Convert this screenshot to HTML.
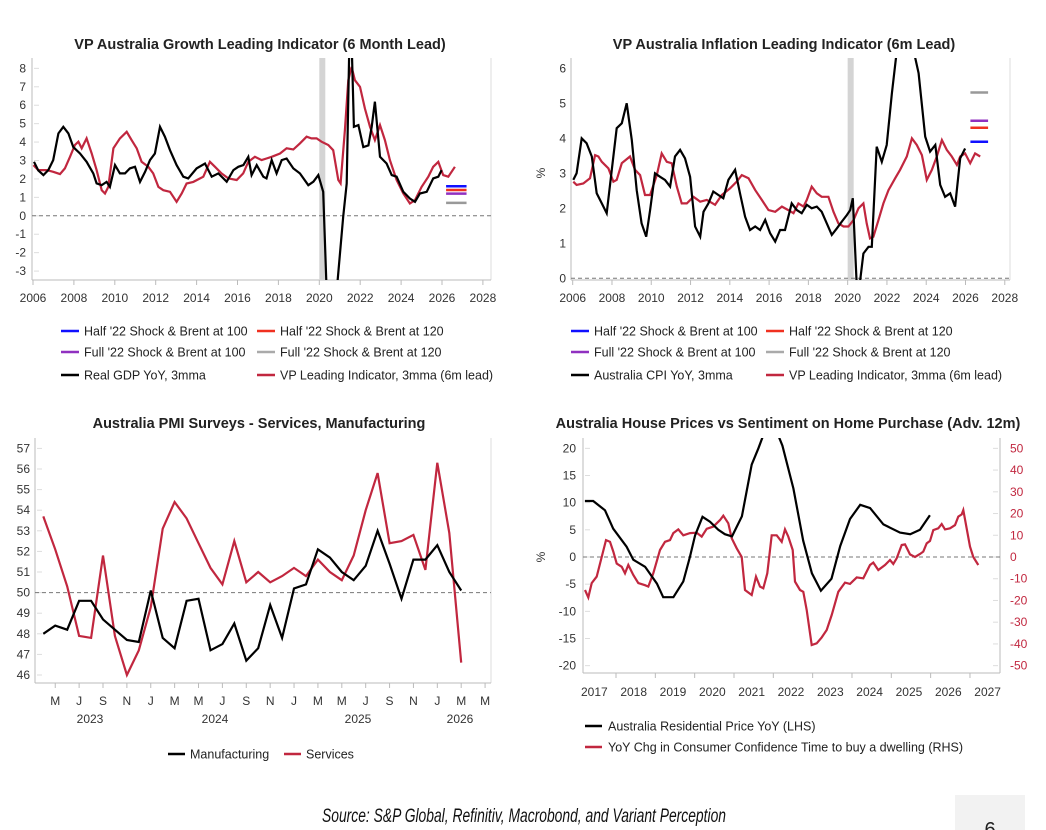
<!DOCTYPE html>
<html><head><meta charset="utf-8"><style>
html,body{margin:0;padding:0;background:#fff;}
svg{display:block;font-family:"Liberation Sans",sans-serif;}
</style></head><body>
<svg id="root" width="1046" height="830" viewBox="0 0 1046 830" xmlns="http://www.w3.org/2000/svg">
<defs>
<clipPath id="c1"><rect x="32" y="58" width="459" height="222"/></clipPath>
<clipPath id="c2"><rect x="571" y="58" width="439" height="222"/></clipPath>
<clipPath id="c3"><rect x="35" y="438" width="456" height="245"/></clipPath>
<clipPath id="c4"><rect x="583" y="438" width="417" height="235"/></clipPath>
</defs>
<text x="260" y="49" text-anchor="middle" font-size="14.5" font-weight="bold" fill="#222">VP Australia Growth Leading Indicator (6 Month Lead)</text>
<text x="784" y="49" text-anchor="middle" font-size="14.5" font-weight="bold" fill="#222">VP Australia Inflation Leading Indicator (6m Lead)</text>
<text x="259" y="428" text-anchor="middle" font-size="14.5" font-weight="bold" fill="#222">Australia PMI Surveys - Services, Manufacturing</text>
<text x="788" y="428" text-anchor="middle" font-size="14.5" font-weight="bold" fill="#222">Australia House Prices vs Sentiment on Home Purchase (Adv. 12m)</text>
<text x="322" y="822" font-size="19" font-style="italic" fill="#111" textLength="404" lengthAdjust="spacingAndGlyphs">Source: S&amp;P Global, Refinitiv, Macrobond, and Variant Perception</text>
<rect x="955" y="795" width="70" height="35" fill="#f2f2f2"/>
<text x="990" y="836" text-anchor="middle" font-size="20" fill="#222">6</text>
<g id="g"></g>
</svg>
<script>
// ---- Chart 1: growth ----
const g1GdpYears=[2006.05,2006.26,2006.51,2006.75,2006.99,2007.24,2007.48,2007.73,2007.97,2008.30,2008.62,2008.95,2009.11,2009.36,2009.60,2009.76,2010.01,2010.25,2010.50,2010.74,2010.99,2011.23,2011.48,2011.72,2011.96,2012.21,2012.45,2012.70,2013.02,2013.35,2013.59,2014.00,2014.41,2014.74,2015.06,2015.47,2015.80,2016.04,2016.29,2016.53,2016.69,2016.94,2017.26,2017.42,2017.67,2017.91,2018.16,2018.40,2018.73,2019.05,2019.46,2019.71,2019.95,2020.19,2020.45,2020.70,2021.17,2021.34,2021.47,2021.58,2021.69,2021.91,2022.15,2022.40,2022.56,2022.72,2022.97,2023.29,2023.54,2023.78,2024.11,2024.43,2024.68,2024.92,2025.25,2025.57,2025.82,2025.98];
const g1Gdp=[2.93,2.46,2.21,2.48,3.02,4.47,4.83,4.47,3.73,3.38,2.93,2.30,1.76,1.66,1.84,1.57,2.75,2.30,2.30,2.57,2.66,1.84,2.39,3.02,3.38,4.83,4.29,3.56,2.75,2.12,2.03,2.57,2.84,2.12,2.30,1.85,2.48,2.66,2.75,3.20,2.21,2.75,2.12,2.03,3.02,2.30,3.02,3.11,2.57,2.30,1.66,1.85,2.21,1.30,-7,-6,-0.05,1.75,9.5,9.5,4.83,4.92,3.73,3.82,4.83,6.19,3.20,2.84,2.21,2.12,1.30,0.94,0.76,1.21,1.30,2.03,2.12,2.48];
const g1LeadYears=[2006.02,2006.26,2006.67,2006.99,2007.32,2007.56,2007.81,2008.05,2008.22,2008.38,2008.62,2008.87,2009.11,2009.36,2009.52,2009.68,2009.93,2010.25,2010.58,2010.82,2011.07,2011.31,2011.64,2011.88,2012.13,2012.37,2012.70,2013.02,2013.27,2013.51,2013.84,2014.33,2014.65,2014.90,2015.22,2015.55,2015.96,2016.28,2016.53,2016.85,2017.18,2017.42,2017.67,2018.08,2018.40,2018.73,2019.05,2019.38,2019.62,2019.87,2020.11,2020.44,2020.68,2020.93,2021.04,2021.25,2021.42,2021.58,2021.74,2021.99,2022.23,2022.48,2022.72,2022.97,2023.21,2023.45,2023.78,2024.11,2024.43,2024.68,2025.00,2025.33,2025.57,2025.82,2026.06,2026.31,2026.63];
const g1Lead=[2.75,2.48,2.48,2.39,2.26,2.57,3.20,3.84,4.02,3.66,4.20,3.38,2.48,1.39,1.21,1.57,3.66,4.20,4.56,4.11,3.66,2.93,2.66,2.30,1.57,1.39,1.30,0.76,1.21,1.75,1.84,2.12,2.93,2.66,2.30,2.03,1.94,2.30,2.93,3.20,3.02,3.11,3.20,3.38,3.66,3.60,3.93,4.29,4.20,4.20,4.02,3.84,3.56,1.94,1.76,4.65,7.36,8.08,7.36,7.00,5.82,4.83,4.11,4.92,4.11,3.02,1.94,1.21,0.67,0.85,1.57,2.12,2.66,2.93,2.21,2.12,2.66];
const g1Scenario=[1.6,1.4,1.2,0.7];
const g1YTicks=[8,7,6,5,4,3,2,1,0,-1,-2,-3];
const xYearTicks=[2006,2008,2010,2012,2014,2016,2018,2020,2022,2024,2026,2028];
// ---- Chart 2: inflation ----
const g2CpiYears=[2006.03,2006.20,2006.46,2006.71,2006.97,2007.22,2007.48,2007.73,2007.99,2008.24,2008.50,2008.75,2009.01,2009.26,2009.51,2009.74,2009.94,2010.19,2010.45,2010.70,2010.96,2011.21,2011.47,2011.72,2011.98,2012.23,2012.49,2012.66,2012.91,2013.16,2013.42,2013.67,2013.93,2014.27,2014.52,2014.78,2015.03,2015.29,2015.54,2015.80,2016.05,2016.31,2016.56,2016.81,2017.15,2017.41,2017.66,2017.92,2018.17,2018.43,2018.68,2018.94,2019.19,2019.45,2019.70,2019.96,2020.13,2020.26,2020.47,2020.63,2020.80,2021.06,2021.23,2021.48,2021.74,2021.99,2022.25,2022.50,2022.75,2022.95,2023.20,2023.44,2023.61,2023.95,2024.20,2024.46,2024.71,2024.96,2025.22,2025.47,2025.73,2025.98];
const g2Cpi=[2.81,3.00,4.00,3.86,3.48,2.43,2.14,1.86,3.10,4.29,4.43,5.00,3.95,2.52,1.57,1.19,1.95,3.00,2.90,2.81,2.62,3.48,3.67,3.43,2.90,1.48,1.19,1.90,2.14,2.48,2.38,2.29,2.81,3.10,2.43,1.76,1.38,1.48,1.38,1.67,1.29,1.05,1.38,1.38,2.14,1.95,1.86,2.10,2.00,2.05,1.90,1.57,1.24,1.43,1.62,1.81,1.95,2.29,-0.3,-0.1,0.71,0.90,0.90,3.76,3.33,3.81,5.29,6.5,7.5,7.8,7.0,6.3,5.86,4.05,3.62,3.81,2.67,2.33,2.43,2.05,3.43,3.71];
const g2LeadYears=[2006.03,2006.20,2006.54,2006.88,2007.14,2007.31,2007.48,2007.82,2008.07,2008.24,2008.50,2008.92,2009.17,2009.43,2009.68,2009.94,2010.28,2010.53,2010.79,2011.04,2011.30,2011.55,2011.81,2012.15,2012.49,2012.83,2013.25,2013.59,2014.01,2014.35,2014.61,2014.95,2015.29,2015.63,2015.97,2016.31,2016.65,2016.98,2017.24,2017.49,2017.75,2017.92,2018.17,2018.43,2018.68,2019.02,2019.28,2019.53,2019.79,2020.04,2020.30,2020.55,2020.80,2020.97,2021.14,2021.31,2021.57,2021.82,2022.08,2022.42,2022.67,2023.01,2023.27,2023.52,2023.78,2024.03,2024.29,2024.54,2024.80,2025.05,2025.30,2025.56,2025.73,2025.98,2026.24,2026.49,2026.75];
const g2Lead=[2.76,2.67,2.71,2.86,3.52,3.48,3.33,3.14,2.76,2.81,3.29,3.48,3.10,2.95,2.38,2.38,2.95,3.57,3.33,3.29,2.62,2.14,2.14,2.33,2.19,2.24,2.10,2.38,2.57,2.76,2.95,2.86,2.52,2.24,1.95,1.90,2.05,1.95,1.86,2.14,2.05,2.24,2.62,2.43,2.33,2.33,1.90,1.57,1.48,1.48,1.67,2.00,2.14,1.57,1.14,1.19,1.67,2.14,2.52,2.86,3.10,3.48,4.00,3.81,3.52,2.81,3.10,3.48,3.95,3.67,3.48,3.24,3.48,3.57,3.29,3.57,3.48];
const g2Scenario=[3.9,4.3,4.5,5.31];
const g2YTicks=[6,5,4,3,2,1,0];
// ---- Chart 3: PMI ----
const pmiManufacturing=[48.0,48.4,48.2,49.6,49.6,48.7,48.2,47.7,47.6,50.1,47.8,47.3,49.6,49.7,47.2,47.5,48.5,46.7,47.3,49.4,47.8,50.2,50.4,52.1,51.7,51.0,50.6,51.3,53.0,51.4,49.7,51.6,51.6,52.3,51.0,50.1];
const pmiServices=[53.7,52.1,50.3,47.9,47.8,51.8,47.9,46.0,47.2,49.3,53.1,54.4,53.6,52.4,51.2,50.4,52.5,50.5,51.0,50.5,50.8,51.2,50.8,51.6,51.0,50.6,51.8,54.0,55.8,52.4,52.5,52.8,51.1,56.3,52.9,46.6];
const pmiYTicks=[57,56,55,54,53,52,51,50,49,48,47,46];
const pmiMonthLabels=["M","J","S","N","J","M","M","J","S","N","J","M","M","J","S","N","J","M","M"];
const pmiYearLabels=["2023","2024","2025","2026"];
// ---- Chart 4: house prices ----
const hpYears=[2017.21,2017.42,2017.72,2017.93,2018.27,2018.44,2018.74,2019.04,2019.20,2019.46,2019.71,2019.88,2020.01,2020.20,2020.39,2020.60,2020.77,2020.95,2021.20,2021.45,2021.62,2021.80,2021.95,2022.09,2022.23,2022.51,2022.76,2022.98,2023.21,2023.48,2023.70,2023.95,2024.21,2024.46,2024.80,2025.22,2025.48,2025.73,2025.98];
const hpPrice=[10.3,10.3,8.6,5.2,1.9,-0.5,-1.8,-4.9,-7.4,-7.4,-4.5,0,4.0,7.4,6.5,5.0,4.2,3.8,7.5,17.0,20.0,23.5,24.5,23.0,20.5,12.6,3.0,-3.0,-6.2,-4.0,2.0,7.0,9.6,9.0,6.0,4.5,4.2,5.0,7.7];
const sentXz=[165,175,185,200,215,228,240,250,260,275,285,295,310,325,345,355,370,390,405,420,430,445,460,480,500,515,530,550,570,580,595,605,620,635,645,665,678,690,700,712,725,740,755,765,775,788,795,810,820,830,845,860,875,890,905,925,945,960,980,1000,1020,1030,1045,1065,1080,1090,1100,1115,1125,1140,1155,1170,1180,1190,1200,1210,1225,1235,1245,1260,1275,1285,1295,1300,1320,1330,1345];
const sentimentYoY=[-15.2,-18.6,-12,-9,0,7.8,7,2.5,-3,-4.5,-7.5,-3.7,-8.3,-12,-13,-13.6,-7.5,3.2,7,7.8,11,12.7,10,11,11.2,9.4,13,14,17,19,15.5,8.6,4,0,-15.2,-17.5,-9,-13.6,-14.4,-7.5,10,10,7,12.7,9.4,3.2,-11.3,-15.2,-16,-24.4,-40.5,-39.7,-37,-33.6,-26.7,-16,-11.8,-12.4,-9.4,-9.8,-3.7,-2.6,-6,-3.7,-1.4,-3.2,-0.6,5.5,5.8,1.2,0,1.4,2.5,6.3,7.4,12.4,13.2,15.2,12.7,13.2,14.7,18.6,19.6,21.6,4.8,0,-3.7];
const hpLeftTicks=[20,15,10,5,0,-5,-10,-15,-20];
const hpRightTicks=[50,40,30,20,10,0,-10,-20,-30,-40,-50];
const hpYearLabels=["2017","2018","2019","2020","2021","2022","2023","2024","2025","2026","2027"];

const NS="http://www.w3.org/2000/svg";
const G=document.getElementById('g');
function mk(tag,attrs,parent){const e=document.createElementNS(NS,tag);for(const k in attrs)e.setAttribute(k,attrs[k]);(parent||G).appendChild(e);return e;}
function txt(x,y,s,attrs,parent){const e=mk('text',Object.assign({x:x,y:y,'font-size':12,fill:'#333'},attrs||{}),parent);e.textContent=s;return e;}
function path(xs,ys,fx,fy){return xs.map((v,i)=>(i?'L':'M')+fx(v).toFixed(1)+','+fy(ys[i]).toFixed(1)).join('');}
const RED='#c1273f';

// Chart 1
const x1=y=>33+(y-2006)*20.45, y1=v=>215.8-v*18.43;
mk('line',{x1:32,y1:58,x2:32,y2:280,stroke:'#bbb'});
mk('line',{x1:491,y1:58,x2:491,y2:280,stroke:'#ddd'});
mk('line',{x1:32,y1:280,x2:491,y2:280,stroke:'#bbb'});
let rec1=mk('rect',{x:x1(2020.0),y:58,width:6,height:222,fill:'#d4d4d4'});


g1YTicks.forEach(t=>{mk('line',{x1:34,x2:39,y1:y1(t),y2:y1(t),stroke:'#ddd'});let e=txt(26,y1(t)+4,String(t),{'text-anchor':'end'});});
xYearTicks.forEach(t=>{mk('line',{x1:x1(t),x2:x1(t),y1:280,y2:285,stroke:'#bbb'});let e=txt(x1(t),302,String(t),{'text-anchor':'middle'});});
mk('line',{x1:32,x2:491,y1:y1(0),y2:y1(0),stroke:'#777','stroke-dasharray':'4,3'});
let c1=mk('g',{'clip-path':'url(#c1)'});
let p=mk('path',{d:path(g1LeadYears,g1Lead,x1,y1),fill:'none',stroke:RED,'stroke-width':2.2},c1);

p=mk('path',{d:path(g1GdpYears,g1Gdp,x1,y1),fill:'none',stroke:'#000','stroke-width':2.2},c1);

const scenColors1=['#1010ff','#f03020','#9030c0','#999'];
g1Scenario.forEach((v,i)=>{let l=mk('line',{x1:x1(2026.2),x2:x1(2027.2),y1:y1(v),y2:y1(v),stroke:scenColors1[i],'stroke-width':2.5});});

// Chart 2
const x2=y=>572.7+(y-2006)*19.64, y2=v=>278.3-v*35;
mk('line',{x1:571,y1:58,x2:571,y2:280,stroke:'#bbb'});
mk('line',{x1:1010,y1:58,x2:1010,y2:280,stroke:'#ddd'});
mk('line',{x1:571,y1:280,x2:1010,y2:280,stroke:'#bbb'});
let rec2=mk('rect',{x:x2(2020.0),y:58,width:6,height:222,fill:'#d4d4d4'});


g2YTicks.forEach(t=>{let e=txt(566,y2(t)+4,String(t),{'text-anchor':'end'});});
xYearTicks.forEach(t=>{mk('line',{x1:x2(t),x2:x2(t),y1:280,y2:285,stroke:'#bbb'});let e=txt(x2(t),302,String(t),{'text-anchor':'middle'});});
txt(545,173,'%',{'text-anchor':'middle',transform:'rotate(-90 545 173)'});
mk('line',{x1:571,x2:1010,y1:y2(0),y2:y2(0),stroke:'#777','stroke-dasharray':'4,3'});
let c2=mk('g',{'clip-path':'url(#c2)'});
p=mk('path',{d:path(g2LeadYears,g2Lead,x2,y2),fill:'none',stroke:RED,'stroke-width':2.2},c2);

p=mk('path',{d:path(g2CpiYears,g2Cpi,x2,y2),fill:'none',stroke:'#000','stroke-width':2.2},c2);

const scenColors2=['#1010ff','#f03020','#9030c0','#999'];
g2Scenario.forEach((v,i)=>{let l=mk('line',{x1:x2(2026.25),x2:x2(2027.15),y1:y2(v),y2:y2(v),stroke:scenColors2[i],'stroke-width':2.5});});

// Legends top
function legend(items,colX,rowsY,lineLen){items.forEach((it,i)=>{const x=colX[i%2],y=rowsY[Math.floor(i/2)];let l=mk('line',{x1:x,x2:x+lineLen,y1:y,y2:y,stroke:it[1],'stroke-width':2.5});let t=txt(x+lineLen+5,y+4.5,it[0],{'font-size':12.5,fill:'#222'});});}
legend([["Half '22 Shock & Brent at 100",'#1010ff'],["Half '22 Shock & Brent at 120",'#f03020'],["Full '22 Shock & Brent at 100",'#9030c0'],["Full '22 Shock & Brent at 120",'#aaa'],["Real GDP YoY, 3mma",'#000'],["VP Leading Indicator, 3mma (6m lead)",RED]],[61,257],[331,352,375],18);
legend([["Half '22 Shock & Brent at 100",'#1010ff'],["Half '22 Shock & Brent at 120",'#f03020'],["Full '22 Shock & Brent at 100",'#9030c0'],["Full '22 Shock & Brent at 120",'#aaa'],["Australia CPI YoY, 3mma",'#000'],["VP Leading Indicator, 3mma (6m lead)",RED]],[571,766],[331,352,375],18);

// Chart 3
const x3=i=>43.3+i*11.94, y3=v=>675-(v-46)*20.6;
mk('line',{x1:35,y1:438,x2:35,y2:683,stroke:'#bbb'});
mk('line',{x1:491,y1:438,x2:491,y2:683,stroke:'#ddd'});
mk('line',{x1:35,y1:683,x2:491,y2:683,stroke:'#bbb'});
pmiYTicks.forEach(t=>{mk('line',{x1:37,x2:42,y1:y3(t),y2:y3(t),stroke:'#ddd'});let e=txt(30,y3(t)+4,String(t),{'text-anchor':'end'});});
pmiMonthLabels.forEach((m,i)=>{const x=x3(1+2*i);mk('line',{x1:x,x2:x,y1:683,y2:688,stroke:'#bbb'});let e=txt(x,705,m,{'text-anchor':'middle'});});
[90,215,358,460].forEach((x,i)=>{let e=txt(x,723,pmiYearLabels[i],{'text-anchor':'middle'});});
mk('line',{x1:35,x2:491,y1:y3(50),y2:y3(50),stroke:'#777','stroke-dasharray':'4,3'});
let c3=mk('g',{'clip-path':'url(#c3)'});
const idx=pmiServices.map((_,i)=>i);
p=mk('path',{d:path(idx,pmiServices,x3,y3),fill:'none',stroke:RED,'stroke-width':2.2},c3);

p=mk('path',{d:path(idx,pmiManufacturing,x3,y3),fill:'none',stroke:'#000','stroke-width':2.2},c3);

let l3=mk('line',{x1:168,x2:185,y1:754,y2:754,stroke:'#000','stroke-width':2.5});
let t3=txt(190,758.5,'Manufacturing',{'font-size':12.5,fill:'#222'});
l3=mk('line',{x1:284,x2:301,y1:754,y2:754,stroke:RED,'stroke-width':2.5});
t3=txt(306,758.5,'Services',{'font-size':12.5,fill:'#222'});

// Chart 4
const x4=y=>616+(y-2018)*39.33, yl=v=>557-v*5.433, yr=v=>557-v*2.173;
const x4z=xz=>530+xz/3;
mk('line',{x1:583,y1:438,x2:583,y2:673,stroke:'#bbb'});
mk('line',{x1:1000,y1:438,x2:1000,y2:673,stroke:'#bbb'});
mk('line',{x1:583,y1:673,x2:1000,y2:673,stroke:'#bbb'});
hpLeftTicks.forEach(t=>{mk('line',{x1:585,x2:590,y1:yl(t),y2:yl(t),stroke:'#ddd'});let e=txt(576,yl(t)+4,String(t),{'text-anchor':'end'});});
hpRightTicks.forEach(t=>{mk('line',{x1:993,x2:998,y1:yr(t),y2:yr(t),stroke:'#ddd'});let e=txt(1010,yr(t)+4,String(t),{fill:RED});});
hpYearLabels.forEach((s,i)=>{const y=2017+i;if(i>0)mk('line',{x1:x4(y),x2:x4(y),y1:673,y2:678,stroke:'#bbb'});let e=txt(x4(y+0.5)-2,696,s,{'text-anchor':'middle'});});
txt(545,557,'%',{'text-anchor':'middle',transform:'rotate(-90 545 557)'});
mk('line',{x1:583,x2:1000,y1:yl(0),y2:yl(0),stroke:'#777','stroke-dasharray':'4,3'});
let c4=mk('g',{'clip-path':'url(#c4)'});
p=mk('path',{d:path(sentXz,sentimentYoY,x4z,yr),fill:'none',stroke:RED,'stroke-width':2.2},c4);

p=mk('path',{d:path(hpYears,hpPrice,x4,yl),fill:'none',stroke:'#000','stroke-width':2.2},c4);

let l4=mk('line',{x1:585,x2:602,y1:726,y2:726,stroke:'#000','stroke-width':2.5});
let t4=txt(608,730.5,'Australia Residential Price YoY (LHS)',{'font-size':12.5,fill:'#222'});
l4=mk('line',{x1:585,x2:602,y1:747,y2:747,stroke:RED,'stroke-width':2.5});
t4=txt(608,751.5,'YoY Chg in Consumer Confidence Time to buy a dwelling (RHS)',{'font-size':12.5,fill:'#222'});
</script>
</body></html>
